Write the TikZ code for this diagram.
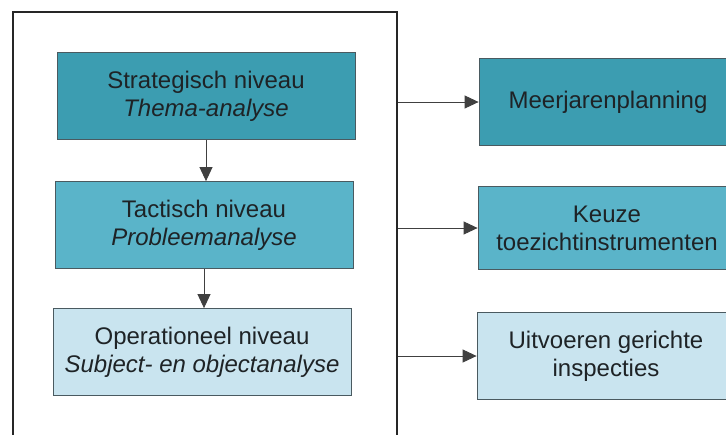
\documentclass[tikz,border=0pt]{standalone}
\usepackage{fontspec}
\setmainfont{Liberation Sans}
\usetikzlibrary{arrows.meta}
\definecolor{tealA}{HTML}{3C9DB1}
\definecolor{tealB}{HTML}{5AB4C9}
\definecolor{tealC}{HTML}{C9E4EF}
\definecolor{edgeC}{HTML}{4A5A60}
\definecolor{txt}{HTML}{1E2326}
\tikzset{
  lvl/.style={draw=edgeC, line width=0.8pt, minimum width=298pt, minimum height=87pt,
    align=center, font=\fontsize{24}{28}\selectfont, text=txt, inner sep=0pt},
  outbox/.style={draw=edgeC, line width=0.8pt, minimum width=258pt, minimum height=86pt,
    align=center, font=\fontsize{24}{28}\selectfont, text=txt, inner sep=0pt},
  conn/.style={draw=black!75, line width=0.9pt, -{Triangle[length=14pt,width=13pt]}},
}
\begin{document}
\begin{tikzpicture}[x=1pt,y=-1pt]
\useasboundingbox (0,0) rectangle (726,434);
\fill[white] (0,0) rectangle (726,434);
% outer frame
\node[draw=black!85, line width=1.8pt, minimum width=384pt, minimum height=440pt, inner sep=0pt] (frame) at (205,232) {};
% left column
\node[lvl, fill=tealA] (s) at (206,96) {Strategisch niveau\\\textit{Thema-analyse}};
\node[lvl, fill=tealB] (t) at (204,225) {Tactisch niveau\\\textit{Probleemanalyse}};
\node[lvl, fill=tealC] (o) at (202,352) {Operationeel niveau\\\textit{Subject- en objectanalyse}};
% right column
\node[outbox, fill=tealA, minimum height=87pt] (m) at (608,102) {Meerjarenplanning};
\node[outbox, fill=tealB, minimum height=83pt] (k) at (607,228) {Keuze\\toezichtinstrumenten};
\node[outbox, fill=tealC, minimum height=87pt] (u) at (606,356) {Uitvoeren gerichte\\inspecties};
% connectors
\draw[conn] (s.south) -- (s.south |- t.north);
\draw[conn] (t.south) -- (t.south |- o.north);
\draw[conn] (frame.east |- m.west) -- (m.west);
\draw[conn] (frame.east |- k.west) -- (k.west);
\draw[conn] (frame.east |- u.west) -- (u.west);
\end{tikzpicture}
\end{document}
